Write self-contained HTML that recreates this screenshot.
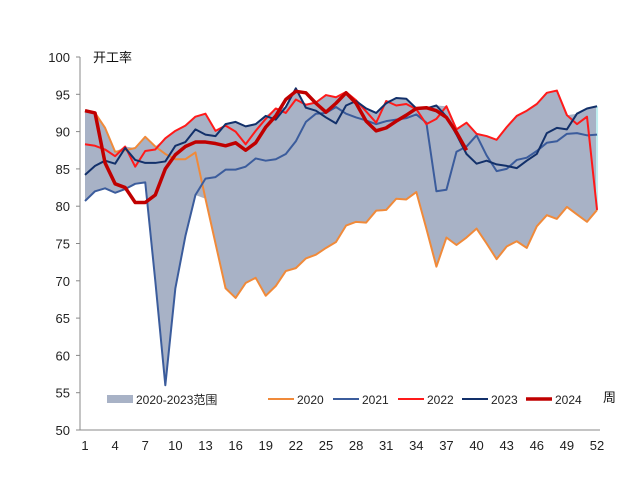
<!DOCTYPE html>
<html><head><meta charset="utf-8"><style>
body{margin:0;background:#fff;width:640px;height:478px;overflow:hidden;font-family:"Liberation Sans","Noto Sans CJK SC",sans-serif}
</style></head><body>
<svg id="c" width="640" height="478" xmlns="http://www.w3.org/2000/svg"></svg>
<script>
const weeks=[];for(let i=1;i<=52;i++)weeks.push(i);
const s2020=[92.8,92.5,90.5,87.3,87.5,87.8,89.3,88,87,86.3,86.3,87.2,81,75,69,67.7,69.7,70.4,68,69.3,71.3,71.7,73,73.5,74.4,75.2,77.4,77.9,77.8,79.4,79.5,81,80.9,81.9,77,71.9,75.8,74.8,75.8,77,75,72.9,74.6,75.3,74.4,77.3,78.8,78.3,79.9,78.9,77.9,79.5];
const s2021=[80.7,82,82.4,81.8,82.3,83,83.2,70,56,69,76,81.5,83.7,83.9,84.9,84.9,85.3,86.4,86.1,86.3,87,88.7,91.3,92.4,92.5,93.3,92.4,91.9,91.5,91,91.4,91.6,91.8,92.3,91.2,82,82.2,87.3,88,89.5,86.8,84.7,85,86.2,86.5,87.4,88.5,88.7,89.7,89.8,89.5,89.6];
const s2022=[88.3,88.1,87.6,86.7,88,85.3,87.4,87.6,89.1,90.1,90.8,92,92.4,90.1,90.8,90,88.3,90.1,91.7,93.1,92.5,94.3,93.6,93.9,94.9,94.6,95.3,94.2,92.7,91.2,94.1,93.5,93.7,93,91,91.7,93.4,90.3,91.2,89.7,89.4,88.9,90.6,92.1,92.8,93.7,95.2,95.5,92.2,91,92,79.5];
const s2023=[84.2,85.4,86.1,85.7,87.8,86.2,85.8,85.8,86,88.1,88.6,90.3,89.6,89.4,91,91.3,90.7,91,92.1,91.6,93.3,95.8,93.2,92.8,91.9,91.1,93.5,94.1,93.1,92.5,93.8,94.5,94.4,93.1,93.1,93.5,92,89.6,87,85.7,86.1,85.6,85.4,85.1,86.1,87,89.8,90.5,90.3,92.4,93.1,93.4];
const s2024=[92.8,92.5,85.8,83,82.5,80.5,80.5,81.5,85,86.9,88,88.6,88.6,88.4,88.1,88.5,87.5,88.5,90.6,92.1,94.3,95.4,95.2,93.8,92.6,93.8,95.2,93.8,91.4,90.1,90.5,91.4,92.2,93.1,93.2,92.8,91.9,89.9,87.5];
const yTicks=[50,55,60,65,70,75,80,85,90,95,100];
const xTicks=[1,4,7,10,13,16,19,22,25,28,31,34,37,40,43,46,49,52];
const X=w=>85+(w-1)*10.04, Y=v=>430-(v-50)*7.46;
const svg=document.getElementById('c'),NS='http://www.w3.org/2000/svg';
function mk(t,a,p){const e=document.createElementNS(NS,t);for(const k in a)e.setAttribute(k,a[k]);(p||svg).appendChild(e);return e;}
// range
const hi=weeks.map((w,i)=>Math.max(s2020[i],s2021[i],s2022[i],s2023[i]));
const lo=weeks.map((w,i)=>Math.min(s2020[i],s2021[i],s2022[i],s2023[i]));
let d=weeks.map((w,i)=>(i?'L':'M')+X(w)+','+Y(hi[i])).join('')+weeks.slice().reverse().map((w,j)=>'L'+X(w)+','+Y(lo[51-j])).join('')+'Z';
const rng=mk('path',{d:d,fill:'#a8b2c6',stroke:'none'});


mk('line',{x1:X(52),y1:Y(hi[51]),x2:X(52),y2:Y(lo[51]),stroke:'#bfeef0','stroke-width':2});
// axes
mk('line',{x1:80,y1:57,x2:80,y2:430,stroke:'#888'});
mk('line',{x1:80,y1:430,x2:600,y2:430,stroke:'#888'});
yTicks.forEach(v=>{mk('line',{x1:76,y1:Y(v),x2:80,y2:Y(v),stroke:'#888'});
const t=mk('text',{x:70,y:Y(v)+5,'text-anchor':'end','font-size':13,fill:'#222'});t.textContent=v;

});
xTicks.forEach(w=>{const t=mk('text',{x:X(w),y:450,'text-anchor':'middle','font-size':13,fill:'#222'});t.textContent=w;

});
const yt=mk('text',{x:93,y:62,'font-size':13,fill:'#111'});yt.textContent='开工率';


const xt=mk('text',{x:603,y:402,'font-size':13,fill:'#111'});xt.textContent='周';


const series=[['2020',s2020,'#f08a3a',2],['2021',s2021,'#3b5c9c',2],['2022',s2022,'#ff1a1a',2],['2023',s2023,'#12306a',2],['2024',s2024,'#c00000',3.5]];
series.forEach(([n,s,c,w])=>{const p=mk('path',{d:s.map((v,i)=>(i?'L':'M')+X(weeks[i])+','+Y(v)).join(''),fill:'none',stroke:c,'stroke-width':w,'stroke-linejoin':'round'});

});
// legend
const lg=mk('g',{});


mk('rect',{x:107,y:395,width:26,height:8,fill:'#a8b2c6'},lg);
const l0=mk('text',{x:136,y:404,'font-size':12,fill:'#222'},lg);l0.textContent='2020-2023范围';
const lx=[268,333,398,462,526];
series.forEach(([n,s,c,w],i)=>{mk('line',{x1:lx[i],y1:399,x2:lx[i]+26,y2:399,stroke:c,'stroke-width':w},lg);
const t=mk('text',{x:lx[i]+29,y:404,'font-size':12,fill:'#222'},lg);t.textContent=n;

});
</script>
</body></html>
